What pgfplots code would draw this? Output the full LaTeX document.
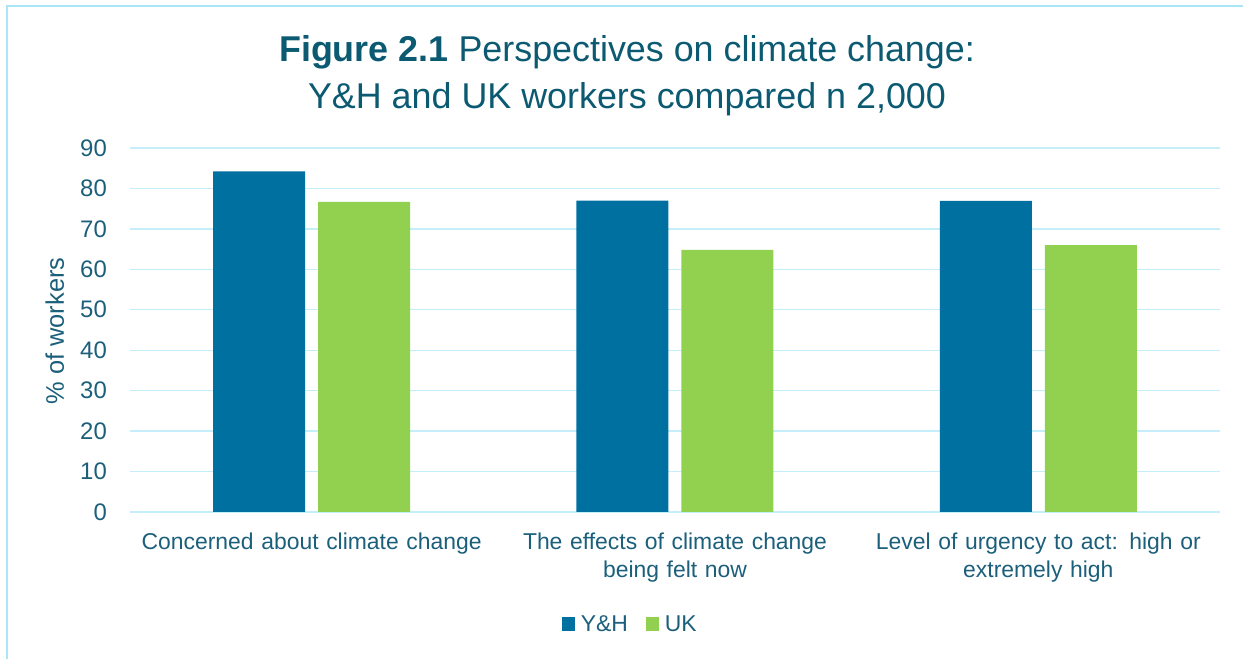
\documentclass[border=0pt]{standalone}
\usepackage{fontspec}
\setmainfont{Liberation Sans}
\usepackage{pgfplots}
\pgfplotsset{compat=1.18}
\definecolor{yh}{HTML}{0070A0}
\definecolor{uk}{HTML}{92D050}
\definecolor{gridc}{HTML}{C4EEFA}
\definecolor{frame}{HTML}{A9E6F7}
\definecolor{titlec}{HTML}{0B5A72}
\definecolor{labc}{HTML}{1B5F7B}
\begin{document}
\begin{tikzpicture}[x=1bp,y=1bp]
\useasboundingbox (0,0) rectangle (1243,659);
\draw[frame, line width=1.5bp] (7,0) -- (7,653) -- (1243,653);
\node[titlec, font=\fontsize{36}{44}\selectfont, anchor=base] at (627,597) {\textbf{Figure 2.1} Perspectives on climate change:};
\node[titlec, font=\fontsize{36}{44}\selectfont, anchor=base] at (627,550) {Y\&H and UK workers compared n 2,000};
\begin{axis}[
  at={(130bp,147bp)}, anchor=south west,
  scale only axis, width=1090bp, height=364bp,
  xmin=-0.5, xmax=2.5, ymin=0, ymax=90,
  ytick={0,10,...,90},
  xtick={0,1,2},
  xticklabels={Concerned about climate change, The effects of climate change\\being felt now, Level of urgency to act: high or\\extremely high},
  ybar=13bp, bar width=92bp,
  axis line style={draw=none},
  major tick length=0pt,
  ymajorgrids, grid style={gridc, line width=1.4bp},
  /pgf/number format/assume math mode=true,
  yticklabel style={font=\fontsize{24}{28}\selectfont, text=labc, anchor=east, inner sep=0pt, xshift=-23bp},
  xticklabel style={font=\fontsize{23}{28}\selectfont, text=labc, align=center, text width=360bp, anchor=north, inner sep=0pt, yshift=-21bp},
  ylabel={\% of workers},
  ylabel style={font=\fontsize{25.5}{30}\selectfont, text=labc, at={(axis description cs:-0.069,0.497)}, anchor=center},
  legend style={at={(axis description cs:0.459,-0.308)}, anchor=center, draw=none, fill=none, legend columns=2, font=\fontsize{23}{27}\selectfont, text=labc, /tikz/every even column/.append style={column sep=16bp}, inner sep=0pt, /tikz/every odd column/.append style={column sep=4bp}},
  legend image code/.code={\fill[#1] (0bp,-7bp) rectangle (13bp,7bp);},
]
\addplot[fill=yh, draw=none] coordinates {(0,84.2) (1,77.0) (2,76.9)};
\addplot[fill=uk, draw=none] coordinates {(0,76.7) (1,64.8) (2,66.0)};
\legend{Y\&H, UK}
\end{axis}
\end{tikzpicture}
\end{document}
